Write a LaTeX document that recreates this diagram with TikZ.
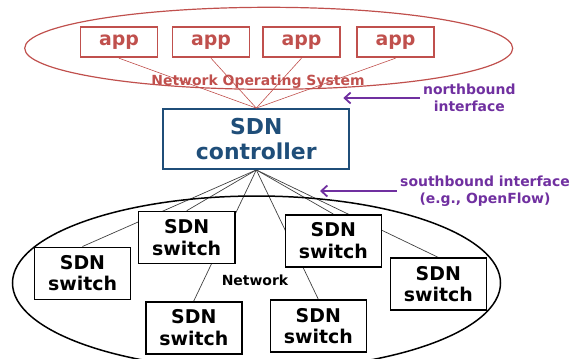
\documentclass[tikz,border=0pt]{standalone}
\usepackage{fontspec}
\setmainfont{DejaVu Sans}
\usetikzlibrary{shapes.geometric,arrows.meta,backgrounds}
\definecolor{osred}{HTML}{C0504D}
\definecolor{ctrlblue}{HTML}{1F4E79}
\definecolor{ifpurple}{HTML}{7030A0}
\tikzset{
	appbox/.style={draw=osred, line width=1.8pt, text=osred, minimum width=77bp, minimum height=30bp, inner sep=0pt, font=\fontsize{19}{21}\selectfont\bfseries},
	switchbox/.style={draw, fill=white, line width=1.6pt, align=center, minimum width=96bp, minimum height=52bp, inner sep=0pt, font=\fontsize{19}{21.5}\selectfont\bfseries},
	iflabel/.style={text=ifpurple, align=center, font=\fontsize{14}{16.5}\selectfont\bfseries},
	ifarrow/.style={draw=ifpurple, line width=1.8pt, -{Straight Barb[length=6bp,width=11bp]}},
	uplink/.style={draw=osred, line width=0.6pt},
	downlink/.style={draw=black!75, line width=0.7pt}
}
\begin{document}
\begin{tikzpicture}[x=1bp, y=-1bp]
	\useasboundingbox (0,0) rectangle (572,358);

	\node[ellipse, draw=osred, line width=1.2pt, minimum width=488bp, minimum height=82bp] (nos) at (268.7,48.3) {};
	\node[text=osred, anchor=base, font=\fontsize{14}{16}\selectfont\bfseries] (noslabel) at (258,85) {Network Operating System};

	\node[appbox] (app1) at (119,42.3) {app};
	\node[appbox] (app2) at (211,42.3) {app};
	\node[appbox] (app3) at (301.5,42.3) {app};
	\node[appbox] (app4) at (395.5,42.3) {app};

	\node[draw=ctrlblue, line width=1.8pt, text=ctrlblue, minimum width=186bp, minimum height=60bp, align=center, inner sep=0pt, font=\fontsize{22}{26}\selectfont\bfseries] (ctrl) at (256.3,139) {SDN\\controller};

	\draw[uplink] (app1.south) -- (ctrl.north);
	\draw[uplink] (app2.south) -- (ctrl.north);
	\draw[uplink] (app3.south) -- (ctrl.north);
	\draw[uplink] (app4.south) -- (ctrl.north);

	\node[iflabel] (nb) at (469.3,98) {northbound\\interface};
	\coordinate (nbtip) at (343.3,98);
	\draw[ifarrow] (nb.west) -- (nbtip);

	\node[iflabel] (sb) at (485,191) {southbound interface\\(e.g., OpenFlow)};
	\coordinate (sbtip) at (320,191);
	\draw[ifarrow] (sb.west) -- (sbtip);

	\node[ellipse, draw, line width=1.5pt, minimum width=488bp, minimum height=174bp] (net) at (256.5,283) {};
	\node[anchor=base, font=\fontsize{14}{16}\selectfont\bfseries] (netlabel) at (255,285.8) {Network};

	\node[switchbox] (s1) at (186.7,237.5) {SDN\\switch};
	\node[switchbox] (s2) at (333.3,240.8) {SDN\\switch};
	\node[switchbox] (s3) at (82.5,273.3) {SDN\\switch};
	\node[switchbox] (s4) at (438.3,284.2) {SDN\\switch};
	\node[switchbox] (s5) at (193.8,327.7) {SDN\\switch};
	\node[switchbox] (s6) at (318.3,326) {SDN\\switch};

	\begin{pgfonlayer}{background}
		\draw[downlink] (ctrl.south) -- (s1.north);
		\draw[downlink] (ctrl.south) -- (s2.north);
		\draw[downlink] (ctrl.south) -- (s3.north);
		\draw[downlink] (ctrl.south) -- (s4.north);
		\draw[downlink] (ctrl.south) -- (s5.north);
		\draw[downlink] (ctrl.south) -- (s6.north);
	\end{pgfonlayer}
\end{tikzpicture}
\end{document}
